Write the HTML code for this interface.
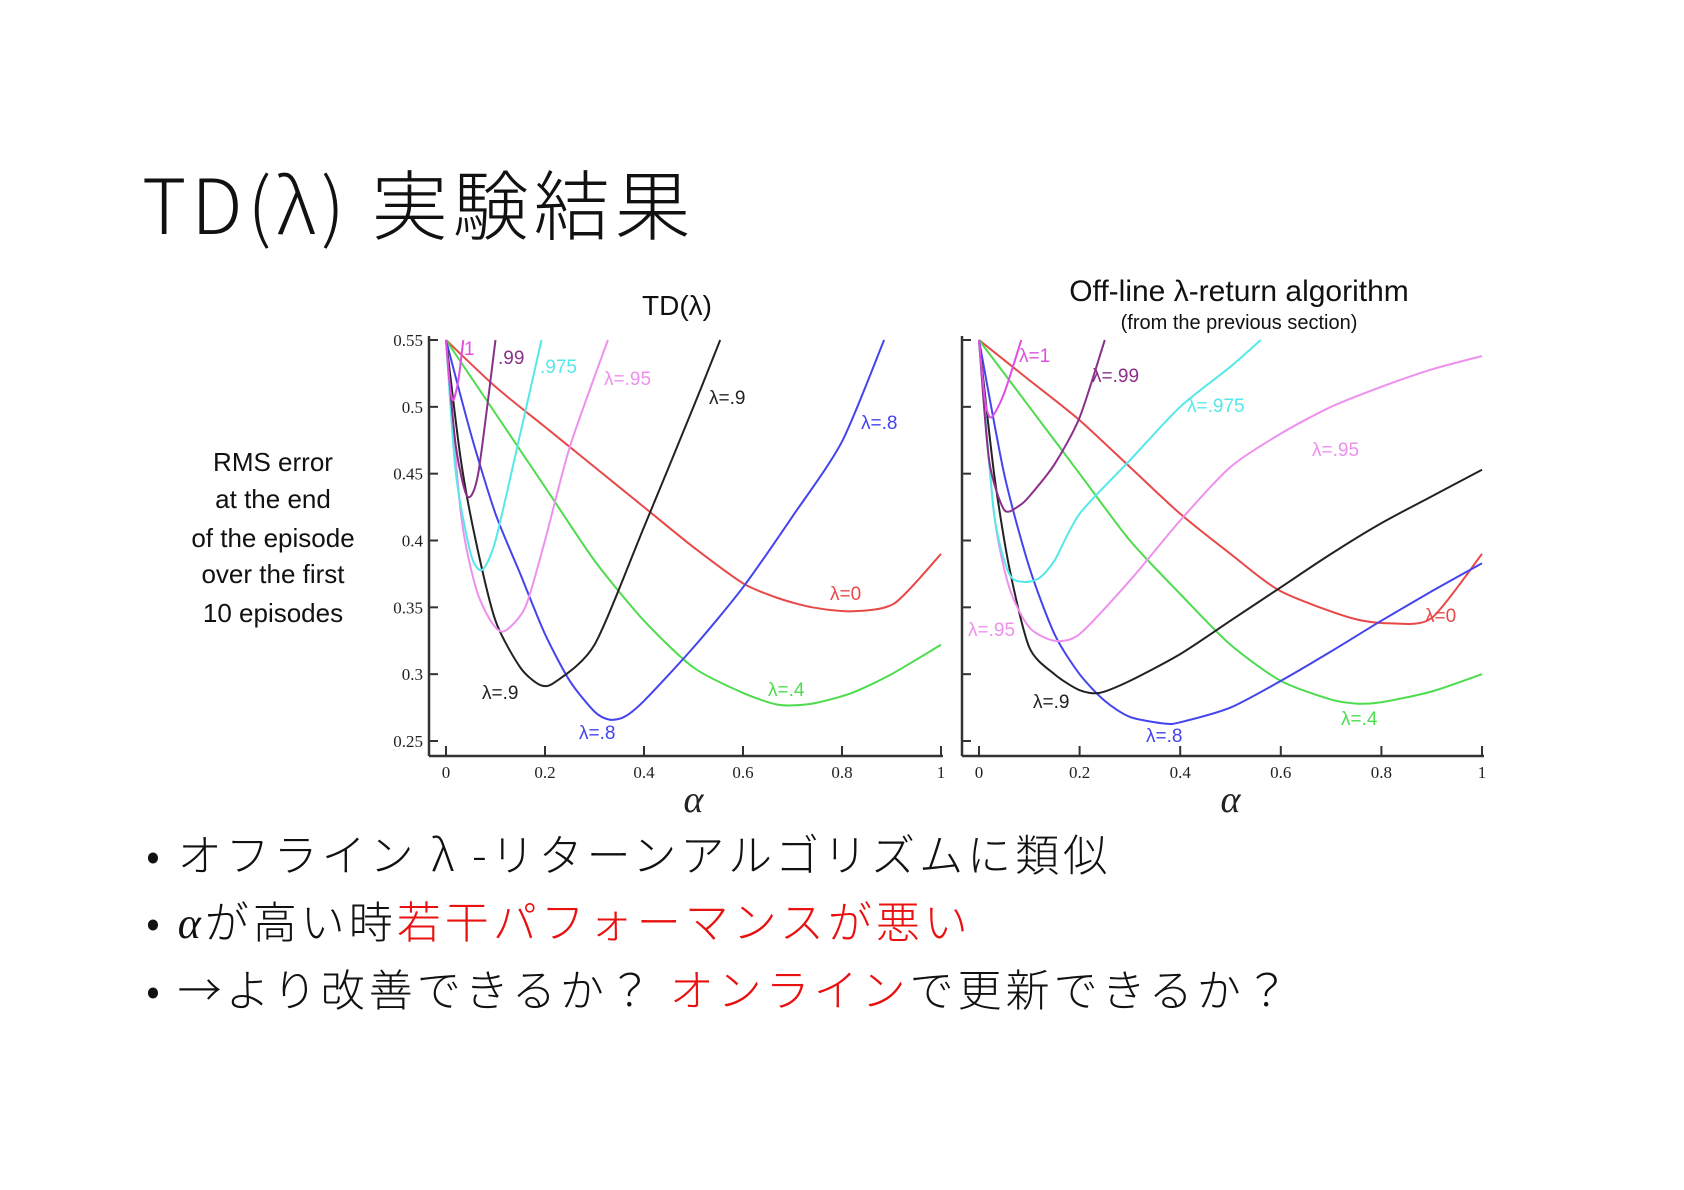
<!DOCTYPE html>
<html><head><meta charset="utf-8">
<style>
body{margin:0;background:#fff;}
#wrap{position:relative;width:1684px;height:1190px;overflow:hidden;background:#fff;font-family:"Liberation Sans","Noto Sans CJK JP",sans-serif;}
.title{position:absolute;left:142px;top:146px;font-size:76px;font-weight:200;color:#111;font-family:"Noto Sans CJK JP",sans-serif;white-space:nowrap;letter-spacing:5px}
.bullet{position:absolute;left:146px;font-size:44px;font-weight:300;color:#111;white-space:nowrap;font-family:"Noto Sans CJK JP",sans-serif;letter-spacing:4px}
.red{color:#e8110f}
svg{position:absolute;left:0;top:0}
</style></head><body>
<div id="wrap">
<div class="title">TD(λ) 実験結果</div>
<div class="bullet" style="top:820px">• オフライン λ -リターンアルゴリズムに類似</div>
<div class="bullet" style="top:887px">• <i style="font-family:'Liberation Serif',serif">α</i>が高い時<span class="red">若干パフォーマンスが悪い</span></div>
<div class="bullet" style="top:955px">• →より改善できるか？ <span class="red">オンライン</span>で更新できるか？</div>
<svg id="chart" width="1684" height="1190"></svg>
</div>
<script>
const NS="http://www.w3.org/2000/svg";
const svg=document.getElementById('chart');
const yTicks=[0.55,0.5,0.45,0.4,0.35,0.3,0.25];
const yTickLabels=["0.55","0.5","0.45","0.4","0.35","0.3","0.25"];
const xTicks=[0,0.2,0.4,0.6,0.8,1];
const xTickLabels=["0","0.2","0.4","0.6","0.8","1"];
const colors={l0:"#e84848",l4:"#4ddc4d",l8:"#4444ee",l9:"#222222",l95:"#ee90ee",l975:"#55e8e8",l99:"#8a308a",l1:"#e050e0"};
// Left chart: TD(lambda)
const L_l0_x=[0,.1,.2,.3,.4,.5,.6,.67,.74,.82,.906,1];
const L_l0_y=[.55,.515,.485,.455,.425,.395,.368,.357,.35,.347,.353,.39];
const L_l4_x=[0,.1,.2,.3,.4,.5,.6,.673,.74,.82,.9,1];
const L_l4_y=[.55,.495,.44,.385,.34,.305,.286,.277,.278,.286,.3,.322];
const L_l8_x=[0,.05,.1,.15,.2,.25,.3,.33,.36,.4,.5,.6,.7,.8,.885];
const L_l8_y=[.55,.48,.42,.375,.33,.295,.272,.266,.268,.28,.32,.365,.418,.474,.55];
const L_l9_x=[0,.03,.06,.1,.15,.19,.22,.3,.4,.5,.554];
const L_l9_y=[.55,.46,.4,.34,.305,.292,.294,.322,.41,.5,.55];
const L_l95_x=[0,.03,.06,.09,.117,.16,.2,.25,.327];
const L_l95_y=[.55,.42,.365,.34,.332,.35,.4,.47,.55];
const L_l975_x=[0,.02,.05,.073,.1,.15,.193];
const L_l975_y=[.55,.45,.39,.378,.4,.48,.55];
const L_l99_x=[0,.02,.043,.065,.1];
const L_l99_y=[.55,.47,.433,.45,.55];
const L_l1_x=[0,.008,.015,.025,.035];
const L_l1_y=[.55,.515,.505,.52,.55];
// Right chart: off-line lambda-return
const R_l0_x=[0,.1,.2,.3,.4,.5,.6,.74,.82,.9,1];
const R_l0_y=[.55,.52,.49,.455,.42,.39,.362,.342,.338,.342,.39];
const R_l4_x=[0,.1,.2,.3,.4,.5,.6,.7,.75,.8,.9,1];
const R_l4_y=[.55,.5,.45,.4,.36,.322,.295,.281,.278,.279,.287,.3];
const R_l8_x=[0,.05,.1,.15,.2,.25,.3,.37,.4,.5,.6,.7,.8,.9,1];
const R_l8_y=[.55,.45,.38,.33,.3,.28,.268,.263,.264,.275,.295,.317,.34,.362,.383];
const R_l9_x=[0,.03,.06,.1,.15,.2,.24,.3,.4,.5,.6,.7,.8,.9,1];
const R_l9_y=[.55,.45,.38,.32,.3,.288,.286,.295,.315,.34,.365,.39,.413,.433,.453];
const R_l95_x=[0,.03,.06,.1,.15,.2,.3,.4,.5,.6,.7,.8,.9,1];
const R_l95_y=[.55,.42,.365,.335,.325,.33,.37,.415,.455,.48,.5,.515,.528,.538];
const R_l975_x=[0,.03,.06,.09,.12,.15,.2,.3,.4,.5,.56];
const R_l975_y=[.55,.42,.375,.369,.372,.385,.42,.46,.5,.53,.55];
const R_l99_x=[0,.02,.05,.08,.1,.15,.2,.25];
const R_l99_y=[.55,.46,.423,.426,.433,.457,.492,.55];
const R_l1_x=[0,.012,.024,.05,.084];
const R_l1_y=[.55,.505,.492,.51,.55];

function el(tag,attrs,name,inter){const e=document.createElementNS(NS,tag);for(const k in attrs)e.setAttribute(k,attrs[k]);
 
 
 svg.appendChild(e);return e;}
function txt(x,y,s,attrs,name){const t=el('text',Object.assign({x:x,y:y},attrs),name,false);t.textContent=s;return t;}
function smooth(P){
 let d='M'+P[0][0].toFixed(1)+','+P[0][1].toFixed(1);
 const k=1/8;
 for(let i=0;i<P.length-1;i++){
  const p0=P[i-1]||P[i],p1=P[i],p2=P[i+1],p3=P[i+2]||P[i+1];
  const c1=[p1[0]+(p2[0]-p0[0])*k,p1[1]+(p2[1]-p0[1])*k];
  const c2=[p2[0]-(p3[0]-p1[0])*k,p2[1]-(p3[1]-p1[1])*k];
  d+=' C'+c1[0].toFixed(1)+','+c1[1].toFixed(1)+' '+c2[0].toFixed(1)+','+c2[1].toFixed(1)+' '+p2[0].toFixed(1)+','+p2[1].toFixed(1);
 }
 return d;
}

function chart(cfg){
 const sx=v=>cfg.x0+(cfg.x1-cfg.x0)*v;
 const sy=v=>cfg.y55+(v-0.55)/(-0.3)*(cfg.y25-cfg.y55);
 const id='clip'+cfg.id;
 const defs=document.createElementNS(NS,'defs');const cp=document.createElementNS(NS,'clipPath');cp.setAttribute('id',id);
 const r=document.createElementNS(NS,'rect');r.setAttribute('x',cfg.ax);r.setAttribute('y',cfg.y55-2);r.setAttribute('width',cfg.x1-cfg.ax+2);r.setAttribute('height',cfg.bot-cfg.y55+2);
 cp.appendChild(r);defs.appendChild(cp);svg.appendChild(defs);
 el('line',{x1:cfg.ax,y1:cfg.y55-4,x2:cfg.ax,y2:cfg.bot,stroke:'#333','stroke-width':2.5},cfg.id+'-y-axis',false);
 el('line',{x1:cfg.ax,y1:cfg.bot,x2:cfg.x1+2,y2:cfg.bot,stroke:'#333','stroke-width':2.5},cfg.id+'-x-axis',false);
 yTicks.forEach((v,i)=>{
  el('line',{x1:cfg.ax,y1:sy(v),x2:cfg.ax+9,y2:sy(v),stroke:'#333','stroke-width':2},cfg.id+'-y-tick',false);
  if(cfg.labels) txt(cfg.ax-6,sy(v)+6,yTickLabels[i],{'text-anchor':'end','font-family':'Liberation Serif,serif','font-size':17,fill:'#222'},cfg.id+'-y-tick-label');
 });
 xTicks.forEach((v,i)=>{
  el('line',{x1:sx(v),y1:cfg.bot,x2:sx(v),y2:cfg.bot-10,stroke:'#333','stroke-width':2},cfg.id+'-x-tick',false);
  txt(sx(v),cfg.bot+22,xTickLabels[i],{'text-anchor':'middle','font-family':'Liberation Serif,serif','font-size':17,fill:'#222'},cfg.id+'-x-tick-label');
 });
 txt((cfg.x0+cfg.x1)/2,cfg.bot+56,'α',{'text-anchor':'middle','font-family':'Liberation Serif,serif','font-style':'italic','font-size':38,fill:'#222'},cfg.id+'-x-axis-title');
 cfg.series.forEach(s=>{
  const P=s.x.map((v,i)=>[sx(v),sy(s.y[i])]);
  el('path',{d:smooth(P),fill:'none',stroke:colors[s.c],'stroke-width':2,'clip-path':'url(#'+id+')'},cfg.id+'-line-'+s.c,false);
 });
 cfg.text.forEach(t=>txt(t[0],t[1]+7,t[2],{'font-size':19,fill:colors[t[3]]},cfg.id+'-label-'+t[3]));
}
chart({id:'td',x0:446,x1:941,y55:340,y25:741,ax:429,bot:756,labels:true,
 series:[{x:L_l0_x,y:L_l0_y,c:'l0'},{x:L_l4_x,y:L_l4_y,c:'l4'},{x:L_l8_x,y:L_l8_y,c:'l8'},{x:L_l9_x,y:L_l9_y,c:'l9'},{x:L_l95_x,y:L_l95_y,c:'l95'},{x:L_l975_x,y:L_l975_y,c:'l975'},{x:L_l99_x,y:L_l99_y,c:'l99'},{x:L_l1_x,y:L_l1_y,c:'l1'}],
 text:[[464,348,'1','l1'],[498,357,'.99','l99'],[540,366,'.975','l975'],[604,378,'λ=.95','l95'],[709,397,'λ=.9','l9'],[861,422,'λ=.8','l8'],[830,593,'λ=0','l0'],[768,689,'λ=.4','l4'],[579,732,'λ=.8','l8'],[482,692,'λ=.9','l9']]});
chart({id:'offline',x0:979,x1:1482,y55:340,y25:741,ax:962,bot:756,labels:false,
 series:[{x:R_l0_x,y:R_l0_y,c:'l0'},{x:R_l4_x,y:R_l4_y,c:'l4'},{x:R_l8_x,y:R_l8_y,c:'l8'},{x:R_l9_x,y:R_l9_y,c:'l9'},{x:R_l95_x,y:R_l95_y,c:'l95'},{x:R_l975_x,y:R_l975_y,c:'l975'},{x:R_l99_x,y:R_l99_y,c:'l99'},{x:R_l1_x,y:R_l1_y,c:'l1'}],
 text:[[1019,355,'λ=1','l1'],[1092,375,'λ=.99','l99'],[1187,405,'λ=.975','l975'],[1312,449,'λ=.95','l95'],[1425,615,'λ=0','l0'],[1341,718,'λ=.4','l4'],[1146,735,'λ=.8','l8'],[1033,701,'λ=.9','l9'],[968,629,'λ=.95','l95']]});
txt(677,315,'TD(λ)',{'text-anchor':'middle','font-size':28,fill:'#111'},'left-chart-title');
txt(1239,301,'Off-line λ-return algorithm',{'text-anchor':'middle','font-size':30,fill:'#111'},'right-chart-title');
txt(1239,329,'(from the previous section)',{'text-anchor':'middle','font-size':20,fill:'#111'},'right-chart-subtitle');
const rms=['RMS error','at the end','of the episode','over the first','10 episodes'];
const rmsY=[462,499,538,574,613];
rms.forEach((s,i)=>txt(273,rmsY[i]+9,s,{'text-anchor':'middle','font-size':26,fill:'#111'},'y-axis-title-line'));
</script>
</body></html>
